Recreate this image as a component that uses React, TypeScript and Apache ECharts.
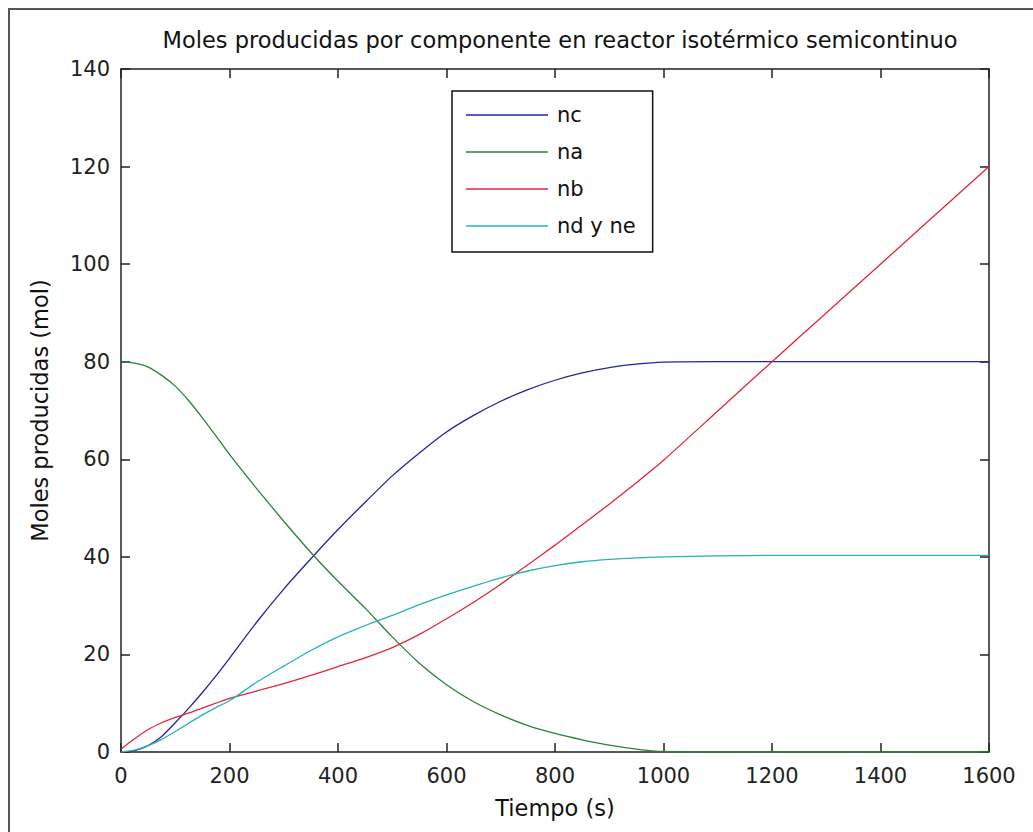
import React, { useEffect, useRef } from "react";
import * as echarts from "echarts";

// Time grid (s)
const times = [0, 25, 50, 75, 100, 125, 150, 175, 200, 250, 300, 350, 400, 450, 500, 550, 600, 650, 700, 750, 800, 850, 900, 950, 1000, 1100, 1200, 1300, 1400, 1500, 1600];

// Moles of each component (mol)
const nc = [0, 0.3, 1.3, 3.2, 6.0, 9.0, 12.2, 15.6, 19.2, 26.6, 33.4, 39.6, 45.6, 51.2, 56.6, 61.3, 65.6, 69.0, 71.9, 74.3, 76.2, 77.7, 78.8, 79.5, 79.9, 80.0, 80.0, 80.0, 80.0, 80.0, 80.0];
const na = [80, 79.7, 78.9, 77.2, 75.0, 72.0, 68.5, 64.8, 61.0, 54.0, 47.3, 40.9, 35.0, 29.5, 23.6, 18.2, 13.8, 10.3, 7.6, 5.4, 3.8, 2.5, 1.4, 0.6, 0.1, 0, 0, 0, 0, 0, 0];
const nb = [0.6, 2.7, 4.6, 6.0, 7.1, 8.0, 9.0, 10.0, 11.0, 12.5, 14.0, 15.7, 17.5, 19.3, 21.4, 24.1, 27.3, 30.7, 34.4, 38.4, 42.4, 46.6, 50.8, 55.2, 59.8, 69.9, 80.0, 90.0, 100.0, 110.0, 120.0];
const nd = [0, 0.4, 1.3, 2.6, 4.2, 5.9, 7.6, 9.1, 10.5, 14.3, 17.6, 20.8, 23.6, 25.9, 28.0, 30.2, 32.2, 34.0, 35.7, 37.1, 38.2, 39.0, 39.5, 39.8, 40.0, 40.2, 40.3, 40.3, 40.3, 40.3, 40.3];

const seriesNames = ["nc", "na", "nb", "nd y ne"];
const seriesValues = [nc, na, nb, nd];
const seriesColors = ["#2323a6", "#2a8236", "#e0283a", "#2ab3b3"];

const FONT = "DejaVu Sans";
const AXIS_COLOR = "#222";

export default function App() {
  const ref = useRef<HTMLDivElement>(null);

  useEffect(() => {
    if (!ref.current) return;
    const chart = echarts.init(ref.current, null, { renderer: "svg" });

    const axisLine = { show: true, onZero: false, lineStyle: { color: AXIS_COLOR, width: 1.5 } };
    const axisTick = { show: true, inside: true, length: 9, lineStyle: { color: AXIS_COLOR, width: 1.5 } };
    const plain = (v: number) => String(v);

    chart.setOption({
      animation: false,
      backgroundColor: "#ffffff",
      title: {
        text: "Moles producidas por componente en reactor isotérmico semicontinuo",
        left: 555,
        top: 23,
        textAlign: "center",
        textStyle: { fontFamily: FONT, fontSize: 22.5, fontWeight: "normal", color: "#111" },
      },
      legend: {
        orient: "vertical",
        left: 452,
        top: 91,
        width: 170,
        padding: [12, 17, 14, 14],
        itemGap: 13,
        itemWidth: 82,
        itemHeight: 1.5,
        icon: "rect",
        backgroundColor: "#ffffff",
        borderColor: "#111",
        borderWidth: 1.5,
        textStyle: { fontFamily: FONT, fontSize: 21, color: "#111", padding: [0, 0, 0, 4], lineHeight: 24 },
        data: seriesNames,
      },
      graphic: [
        {
          type: "rect",
          shape: { x: 9, y: 9, width: 1200, height: 1000 },
          style: { fill: "none", stroke: "#555", lineWidth: 2 },
          silent: true,
        },
      ],
      grid: { left: 121, top: 69, right: 44, bottom: 80, containLabel: false },
      xAxis: [
        {
          type: "value",
          min: 0,
          max: 1600,
          interval: 200,
          position: "bottom",
          name: "Tiempo (s)",
          nameLocation: "middle",
          nameGap: 44,
          nameTextStyle: { fontFamily: FONT, fontSize: 22.5, color: "#111" },
          axisLine,
          axisTick,
          axisLabel: { fontFamily: FONT, fontSize: 21, color: "#222", margin: 13, formatter: plain },
          splitLine: { show: false },
        },
        {
          type: "value",
          min: 0,
          max: 1600,
          interval: 200,
          position: "top",
          axisLine,
          axisTick,
          axisLabel: { show: false },
          splitLine: { show: false },
        },
      ],
      yAxis: [
        {
          type: "value",
          min: 0,
          max: 140,
          interval: 20,
          position: "left",
          name: "Moles producidas (mol)",
          nameLocation: "middle",
          nameGap: 70,
          nameRotate: 90,
          nameTextStyle: { fontFamily: FONT, fontSize: 22.5, color: "#111" },
          axisLine,
          axisTick,
          axisLabel: { fontFamily: FONT, fontSize: 21, color: "#222", margin: 11, formatter: plain },
          splitLine: { show: false },
        },
        {
          type: "value",
          min: 0,
          max: 140,
          interval: 20,
          position: "right",
          axisLine,
          axisTick,
          axisLabel: { show: false },
          splitLine: { show: false },
        },
      ],
      series: seriesNames.map((name, k) => ({
        name,
        type: "line",
        xAxisIndex: 0,
        yAxisIndex: 0,
        data: times.map((t, i) => [t, seriesValues[k][i]]),
        symbol: "none",
        smooth: 0.2,
        color: seriesColors[k],
        lineStyle: { color: seriesColors[k], width: 1.3 },
      })),
    });

    return () => chart.dispose();
  }, []);

  return (
    <div
      ref={ref}
      style={{ position: "absolute", left: 0, top: 0, width: 1033, height: 832 }}
    />
  );
}
